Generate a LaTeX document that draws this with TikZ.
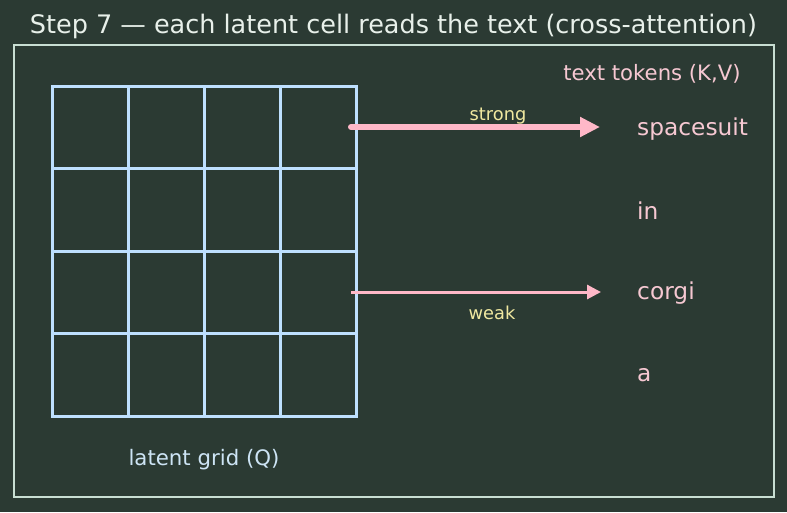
\documentclass[tikz,border=0pt]{standalone}
\usepackage{fontspec}
\setmainfont{DejaVu Sans}
\usetikzlibrary{arrows.meta}
\definecolor{bg}{RGB}{43,58,51}
\definecolor{framec}{RGB}{200,222,210}
\definecolor{gridc}{RGB}{190,224,255}
\definecolor{pinkc}{RGB}{255,184,200}
\definecolor{tokc}{RGB}{246,200,210}
\definecolor{labc}{RGB}{240,232,160}
\definecolor{titlec}{RGB}{232,240,234}
\definecolor{qc}{RGB}{205,228,245}
\begin{document}
\begin{tikzpicture}[x=1pt,y=-1pt,
  token/.style={anchor=west,text=tokc,font=\fontsize{23.3}{26}\selectfont,inner sep=0pt},
  arrlab/.style={text=labc,font=\fontsize{17.8}{20}\selectfont,inner sep=0pt},
  gline/.style={gridc,line width=3pt},
  strongarr/.style={draw=pinkc,line width=6pt,line cap=round,-{Triangle[length=20pt,width=19pt]}},
  weakarr/.style={draw=pinkc,line width=3pt,-{Triangle[length=14pt,width=14pt]}}]
\fill[bg] (0,0) rectangle (787,512);
\useasboundingbox (0,0) rectangle (787,512);
\node[text=titlec,font=\fontsize{25.5}{30}\selectfont,inner sep=0pt] (title) at (393.5,26.5) {Step 7 — each latent cell reads the text (cross-attention)};
\draw[framec,line width=1.8pt] (14,45) rectangle (774,497);
\draw[gline] (52,86) rectangle (356,416);
\foreach \i in {1,2,3} {
  \draw[gline] (52+76*\i,86) -- (52+76*\i,416);
  \draw[gline] (52,86+82.5*\i) -- (356,86+82.5*\i);
}
\node[text=qc,font=\fontsize{21.3}{25}\selectfont,inner sep=0pt] (glab) at (204,460) {latent grid (Q)};
\node[text=tokc,font=\fontsize{21.2}{25}\selectfont,inner sep=0pt] (tlab) at (652,74) {text tokens (K,V)};
\node[token] (t1) at (637,129) {spacesuit};
\node[token] (t2) at (637,211) {in};
\node[token] (t3) at (637,293) {corgi};
\node[token] (t4) at (637,375) {a};
\coordinate (s1) at (351,127);
\coordinate (e1) at (600,127);
\coordinate (s2) at (351,292);
\coordinate (e2) at (601,292);
\draw[strongarr] (s1) -- (e1);
\draw[weakarr] (s2) -- (e2);
\node[arrlab] (strong) at (498,116) {strong};
\node[arrlab] (weak) at (492,313) {weak};
\end{tikzpicture}
\end{document}
